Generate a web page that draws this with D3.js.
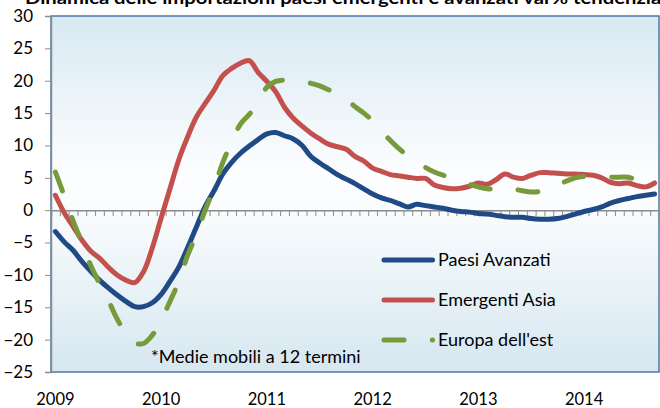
<!DOCTYPE html>
<html>
<head>
<meta charset="utf-8">
<script src="https://cdn.jsdelivr.net/npm/d3@7"></script>
<style>
    body { margin: 0; background: #ffffff; }
    svg { display: block; font-family: Lato, "Liberation Sans", sans-serif; }
</style>
</head>
<body>
<div id="chart"></div>
<script>
// monthly categories, Jan 2009 .. Sep 2014
const months = d3.timeMonth.range(new Date(2009, 0, 1), new Date(2014, 9, 1));
const yearLabels = ["2009", "2010", "2011", "2012", "2013", "2014"];
const yTicks = [-25, -20, -15, -10, -5, 0, 5, 10, 15, 20, 25, 30];

const seriesNames = ["Paesi Avanzati", "Emergenti Asia", "Europa dell'est"];

const paesiAvanzati = [
    -3.3, -4.9, -6.2, -7.9, -9.4, -10.8, -12.0, -13.1, -14.1, -14.9, -14.9, -14.3,
    -13.0, -11.0, -8.8, -5.8, -2.6, 0.6, 3.0, 5.6, 7.4, 8.8, 9.9, 10.9,
    11.8, 12.0, 11.5, 11.0, 10.0, 8.3, 7.3, 6.4, 5.5, 4.8, 4.1, 3.3,
    2.5, 1.9, 1.5, 1.0, 0.5, 0.9, 0.7, 0.5, 0.3, 0.0, -0.2, -0.3,
    -0.5, -0.6, -0.8, -1.0, -1.1, -1.1, -1.3, -1.4, -1.4, -1.3, -1.0, -0.6,
    -0.2, 0.1, 0.5, 1.1, 1.5, 1.8, 2.1, 2.3, 2.5
];

const emergentiAsia = [
    2.3, -0.4, -2.5, -4.6, -6.3, -7.4, -8.8, -10.0, -10.8, -11.2, -9.5, -5.8,
    -1.2, 3.3, 7.8, 11.3, 14.4, 16.5, 18.5, 20.8, 21.9, 22.7, 23.1, 21.3,
    19.9, 18.3, 15.9, 14.2, 13.0, 11.9, 11.0, 10.2, 9.8, 9.4, 8.3, 7.6,
    6.5, 6.0, 5.5, 5.3, 5.1, 4.9, 4.9, 3.9, 3.5, 3.3, 3.4, 3.7,
    4.2, 4.0, 4.7, 5.6, 5.1, 4.9, 5.4, 5.8, 5.8, 5.7, 5.6, 5.6,
    5.5, 5.4, 5.0, 4.3, 4.1, 4.2, 3.8, 3.6, 4.2
];

const europaEst = [
    5.9, 2.2, -1.6, -5.0, -8.5, -11.3, -13.9, -16.8, -19.0, -20.5, -20.6, -19.3,
    -17.0, -14.1, -11.0, -7.0, -3.7, 0.0, 3.4, 7.4, 10.5, 13.3, 14.8, 16.5,
    19.0, 19.9, 20.1, 20.1, 20.0, 19.6, 19.2, 18.6, 18.0, 17.2, 16.0, 15.0,
    13.8, 12.2, 10.8, 9.5, 8.4, 7.5, 6.6, 5.9, 5.4, 5.0, 4.5, 4.0,
    3.6, 3.3, 3.3, 3.6, 3.3, 3.0, 2.8, 2.9, 3.3, 3.9, 4.5, 5.0,
    5.2, 5.2, 5.2, 5.1, 5.1, 5.1, 4.6, 4.0, 3.7
];

const width = 660, height = 408;
const margin = {top: 16, right: 1, bottom: 36, left: 51};
const plotW = width - margin.left - margin.right;
const plotH = height - margin.top - margin.bottom;

const svg = d3.select("#chart")
    .append("svg")
    .attr("width", width)
    .attr("height", height);

// plot area gradient (light blue -> white -> light blue)
let defs = svg.append("defs");
let grad = defs.append("linearGradient")
    .attr("id", "bg")
    .attr("x1", 0).attr("y1", 0).attr("x2", 0).attr("y2", 1);
grad.append("stop").attr("offset", "0%").attr("stop-color", "#d8e9f2");
grad.append("stop").attr("offset", "45%").attr("stop-color", "#fdfeff");
grad.append("stop").attr("offset", "55%").attr("stop-color", "#f9fcfd");
grad.append("stop").attr("offset", "100%").attr("stop-color", "#d6e7f0");

// title, cut off at the top like the original
svg.append("text")
    .attr("x", 25)
    .attr("y", 4)
    .attr("font-size", "17px")
    .attr("font-weight", "bold")
    .attr("textLength", 652)
    .attr("lengthAdjust", "spacingAndGlyphs")
    .text("Dinamica delle importazioni paesi emergenti e avanzati var% tendenziale");

const g = svg.append("g")
    .attr("transform", `translate(${margin.left},${margin.top})`);

g.append("rect")
    .attr("width", plotW)
    .attr("height", plotH)
    .attr("fill", "url(#bg)")
    .attr("stroke", "#4f77a8")
    .attr("stroke-width", 1.5);

// scales
const x = d3.scalePoint()
    .domain(d3.range(months.length))
    .range([0, plotW])
    .padding(0.5);

const xEdge = d3.scaleLinear()
    .domain([0, months.length])
    .range([0, plotW]);

const y = d3.scaleLinear()
    .domain([-25, 30])
    .range([plotH, 0]);

// y axis
const yAxis = g.append("g")
    .call(d3.axisLeft(y).tickValues(yTicks).tickSize(6).tickPadding(12).tickFormat(d3.format("d")));
yAxis.select(".domain").attr("stroke", "#8c8c8c").attr("stroke-width", 1.5);
yAxis.selectAll(".tick line").attr("stroke", "#8c8c8c");
yAxis.selectAll("text")
    .attr("font-size", "17px")
    .attr("fill", "#000")
    .style("font-family", "Lato, sans-serif");

// horizontal category axis at zero, with monthly tick marks
const xAxis = g.append("g")
    .attr("transform", `translate(0,${y(0)})`)
    .call(d3.axisBottom(xEdge).tickValues(d3.range(months.length + 1)).tickSize(6).tickFormat(""));
xAxis.select(".domain").attr("stroke", "#8c8c8c").attr("stroke-width", 1.5);
xAxis.selectAll(".tick line").attr("stroke", "#8c8c8c");

// year labels below the plot, centred on January
g.selectAll(".year-label")
    .data(yearLabels)
    .enter().append("text")
    .attr("class", "year-label")
    .attr("x", (d, i) => x(months.findIndex(m => m.getFullYear() === +d)))
    .attr("y", plotH + 33)
    .attr("text-anchor", "middle")
    .attr("font-size", "16.5px")
    .text(d => d);

// series lines
const line = d3.line()
    .x((d, i) => x(i))
    .y(d => y(d))
    .curve(d3.curveCatmullRom.alpha(0.5));

const series = [
    {name: seriesNames[0], values: paesiAvanzati, color: "#1f4a85", dash: null},
    {name: seriesNames[1], values: emergentiAsia, color: "#c4504e", dash: null},
    {name: seriesNames[2], values: europaEst, color: "#779a3a", dash: "20 28.3"}
];

series.forEach(s => {
    g.append("path")
        .datum(s.values)
        .attr("fill", "none")
        .attr("stroke", s.color)
        .attr("stroke-width", 5)
        .attr("stroke-linecap", "round")
        .attr("stroke-linejoin", "round")
        .attr("stroke-dasharray", s.dash)
        .attr("d", line);
});

// footnote
g.append("text")
    .attr("x", 100)
    .attr("y", 347)
    .attr("font-size", "18px")
    .text("*Medie mobili a 12 termini");

// legend
const legend = g.append("g")
    .attr("transform", `translate(333, 244)`);

legend.selectAll(".legend-line")
    .data(series)
    .enter().append("line")
    .attr("class", "legend-line")
    .attr("x1", 0)
    .attr("x2", 48.5)
    .attr("y1", (d, i) => i * 40)
    .attr("y2", (d, i) => i * 40)
    .attr("stroke", d => d.color)
    .attr("stroke-width", 5)
    .attr("stroke-linecap", "round")
    .attr("stroke-dasharray", d => d.dash);

legend.selectAll(".legend-text")
    .data(series)
    .enter().append("text")
    .attr("class", "legend-text")
    .attr("x", 54)
    .attr("y", (d, i) => i * 40 + 6)
    .attr("font-size", "18px")
    .text(d => d.name);
</script>
</body>
</html>
